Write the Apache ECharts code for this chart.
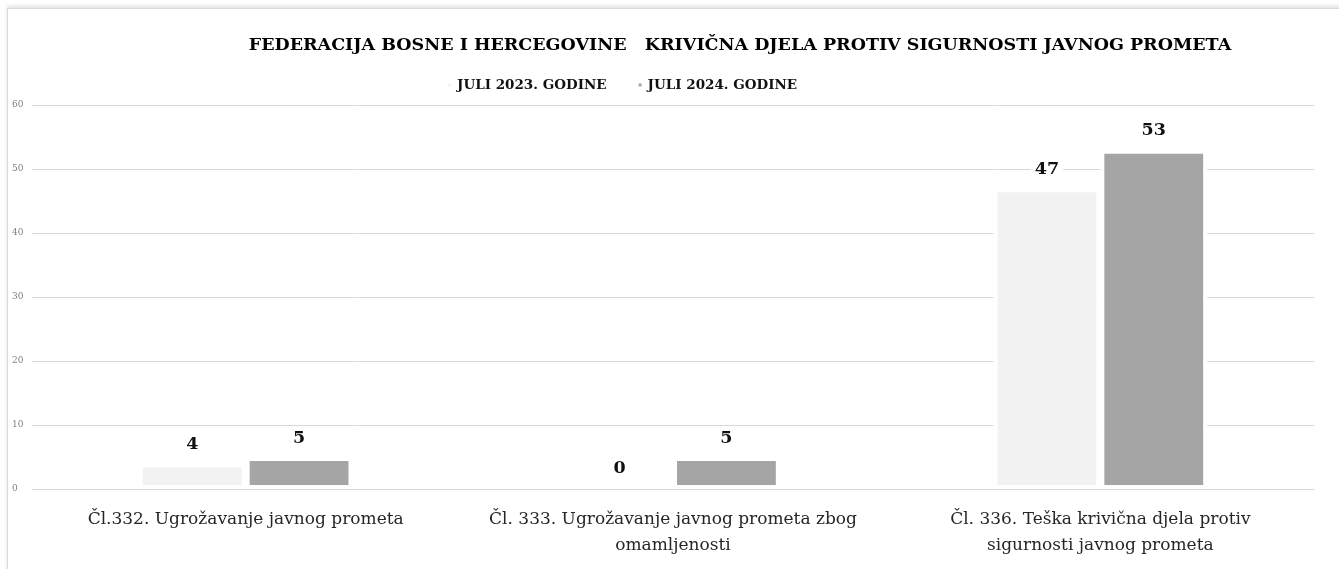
<!DOCTYPE html>
<html>
<head>
<meta charset="utf-8">
<script src="https://cdn.jsdelivr.net/npm/echarts@6/dist/echarts.min.js"></script>
<style>
html,body{margin:0;padding:0;background:#fff;}
#frame{position:absolute;left:7px;top:8px;width:1340px;height:570px;border-left:1px solid #d9d9d9;border-top:1px solid #d9d9d9;box-shadow:0 -2px 4px rgba(0,0,0,0.12);}
#chart{position:absolute;left:0;top:0;width:1339px;height:569px;}
</style>
</head>
<body>
<div id="frame"></div>
<div id="chart"></div>
<script>
const titleText = 'FEDERACIJA BOSNE I HERCEGOVINE   KRIVIČNA DJELA PROTIV SIGURNOSTI JAVNOG PROMETA';
const categories = [
  'Čl.332. Ugrožavanje javnog prometa',
  'Čl. 333. Ugrožavanje javnog prometa zbog\nomamljenosti',
  'Čl. 336. Teška krivična djela protiv\nsigurnosti javnog prometa'
];
const seriesNames = ['JULI 2023. GODINE', 'JULI 2024. GODINE'];
const values2023 = [4, 0, 47];
const values2024 = [5, 5, 53];
const yTicks = [0, 10, 20, 30, 40, 50, 60];

const FONT = '"DejaVu Serif", serif';
const chart = echarts.init(document.getElementById('chart'), null, {renderer: 'canvas'});

function barSeries(name, data, color) {
  return {
    name: name,
    type: 'bar',
    data: data,
    barWidth: '25%',
    barGap: '0%',
    z: 2,
    itemStyle: {color: color, borderColor: '#fff', borderWidth: 4},
    label: {
      show: true,
      position: 'top',
      distance: 10,
      fontFamily: FONT,
      fontWeight: 'bold',
      fontSize: 17.5,
      color: '#111',
      backgroundColor: '#fff',
      padding: [0, 4]
    }
  };
}

chart.setOption({
  animation: false,
  textStyle: {fontFamily: FONT},
  title: {
    text: titleText,
    left: 735,
    top: 31,
    textAlign: 'center',
    textStyle: {fontFamily: FONT, fontWeight: 'bold', fontSize: 17.5, color: '#000'}
  },
  legend: {
    top: 73,
    left: 441,
    itemWidth: 5,
    itemHeight: 5,
    itemGap: 30,
    icon: 'rect',
    textStyle: {fontFamily: FONT, fontWeight: 'bold', fontSize: 13.5, color: '#111'},
    data: seriesNames
  },
  grid: {left: 32, right: 25, top: 105, bottom: 80, containLabel: false},
  xAxis: {
    type: 'category',
    data: categories,
    z: 5,
    axisLine: {show: true, lineStyle: {color: '#d9d9d9', width: 1}},
    axisTick: {show: false},
    axisLabel: {
      interval: 0,
      margin: 18,
      fontFamily: FONT,
      fontSize: 17,
      lineHeight: 26,
      color: '#262626'
    }
  },
  yAxis: {
    type: 'value',
    min: 0,
    max: 60,
    interval: 10,
    axisLine: {show: false},
    axisTick: {show: false},
    splitLine: {lineStyle: {color: '#d9d9d9', width: 1}},
    axisLabel: {
      align: 'left',
      margin: 20,
      fontFamily: FONT,
      fontSize: 9,
      color: '#7f7f7f',
      formatter: function (v) { return yTicks.indexOf(v) >= 0 ? String(v) : ''; }
    }
  },
  series: [
    barSeries(seriesNames[0], values2023, '#f2f2f2'),
    barSeries(seriesNames[1], values2024, '#a5a5a5')
  ]
});
</script>
</body>
</html>
